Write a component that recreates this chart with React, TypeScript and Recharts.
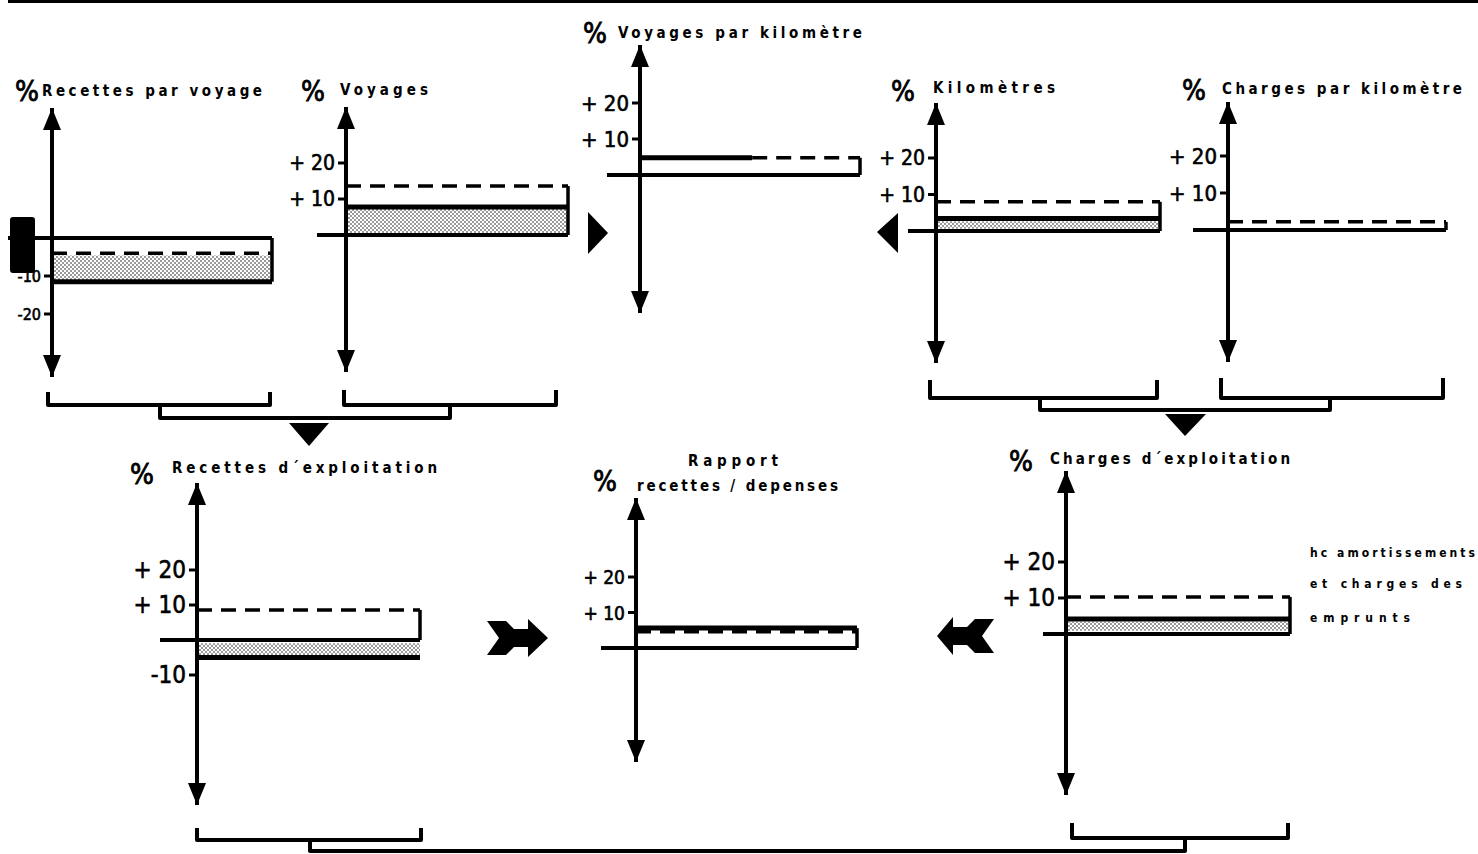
import React from "react";
import {
  ComposedChart,
  Line,
  Area,
  XAxis,
  YAxis,
  ReferenceLine,
} from "recharts";

// ---------- DATA ----------
const panelTitles = [
  "Recettes par voyage",
  "Voyages",
  "Voyages par kilomètre",
  "Kilomètres",
  "Charges par kilomètre",
  "Recettes d´exploitation",
  "recettes / depenses",
  "Charges d´exploitation",
];
const panelSubtitle7 = "Rapport";

// solid line = observed change (%), dashed line = other reference (%)
const solidValues: (number | null)[] = [-11.5, 7.8, 4.8, 3.4, null, -5, 5.6, 4.2];
const dashedValues: (number | null)[] = [-4, 13.6, 4.8, 8, 2.2, 8.6, 4.6, 10.3];
// stippled band (from -> to)
const shadeFrom: (number | null)[] = [-4.6, 0, null, 0.6, null, -0.9, null, 0.9];
const shadeTo: (number | null)[] = [-11.5, 7.8, null, 2.7, null, -5, null, 3.4];
// share of width drawn solid (panel 3: solid then dashed)
const solidSpan = [100, 100, 51, 100, 100, 100, 100, 100];
const dashStart = [0, 0, 51, 0, 0, 0, 0, 0];

const tickValues: number[][] = [
  [-10, -20],
  [20, 10],
  [20, 10],
  [20, 10],
  [20, 10],
  [20, 10, -10],
  [20, 10],
  [20, 10],
];

const noteLines = ["hc amortissements", "et charges des", "emprunts"];

// ---------- LAYOUT (page pixels) ----------
type Geo = {
  axisX: number; zeroY: number; px10: number; top: number; bottom: number;
  zeroLeft: number; boxRight: number; fs: number;
  pct: [number, number]; title: [number, number, number];
};
const geo: Geo[] = [
  { axisX: 52, zeroY: 238, px10: 38, top: 108, bottom: 377, zeroLeft: 8, boxRight: 272, fs: 16, pct: [15, 101], title: [42, 262, 96] },
  { axisX: 346, zeroY: 235, px10: 36, top: 107, bottom: 372, zeroLeft: 317, boxRight: 568, fs: 21, pct: [301, 101], title: [340, 428, 95] },
  { axisX: 640, zeroY: 175, px10: 36, top: 45, bottom: 313, zeroLeft: 607, boxRight: 860, fs: 22, pct: [583, 43], title: [618, 862, 38] },
  { axisX: 936, zeroY: 231, px10: 36.5, top: 103, bottom: 363, zeroLeft: 908, boxRight: 1160, fs: 21, pct: [891, 101], title: [933, 1055, 93] },
  { axisX: 1228, zeroY: 230, px10: 37, top: 102, bottom: 362, zeroLeft: 1193, boxRight: 1446, fs: 22, pct: [1182, 100], title: [1222, 1462, 94] },
  { axisX: 197, zeroY: 640, px10: 35, top: 483, bottom: 805, zeroLeft: 160, boxRight: 420, fs: 24, pct: [130, 484], title: [172, 437, 473] },
  { axisX: 636, zeroY: 648, px10: 35.5, top: 498, bottom: 762, zeroLeft: 601, boxRight: 857, fs: 19, pct: [593, 491], title: [637, 838, 491] },
  { axisX: 1066, zeroY: 634, px10: 36, top: 471, bottom: 795, zeroLeft: 1043, boxRight: 1290, fs: 24, pct: [1009, 471], title: [1050, 1290, 464] },
];

const TICK_FONT = "'Liberation Sans Narrow','DejaVu Sans Condensed','Roboto',sans-serif";
const TITLE_FONT = "'DejaVu Sans Condensed','DejaVu Sans',sans-serif";
const YW = 72;
const RM = 4;

const makeTick = (fs: number) => (props: any) => {
  const { x, y, payload } = props;
  const v = payload.value as number;
  const label = v > 0 ? `+ ${v}` : `-${Math.abs(v)}`;
  return (
    <text x={x} y={y} textAnchor="end" dominantBaseline="central" fontSize={fs} fontFamily={TICK_FONT} fill="#000" stroke="#000" strokeWidth={0.6}>
      {label}
    </text>
  );
};

function Panel({ i }: { i: number }) {
  const g = geo[i];
  const plotW = g.boxRight - g.axisX;
  const W = YW + plotW + RM;
  const H = g.bottom - g.top;
  const ymax = ((g.zeroY - g.top) / g.px10) * 10;
  const ymin = -((g.bottom - g.zeroY) / g.px10) * 10;
  const s = solidValues[i];
  const d = dashedValues[i];
  const hasShade = shadeFrom[i] != null && shadeTo[i] != null;
  const xs = Array.from(new Set([0, solidSpan[i], dashStart[i], 100])).sort((a, b) => a - b);
  const rows = xs.map((x) => ({
    x,
    solid: s != null && x <= solidSpan[i] ? s : null,
    dashed: d != null && x >= dashStart[i] ? d : null,
    shade: hasShade ? [shadeFrom[i] as number, shadeTo[i] as number] : null,
  }));
  const vals = [s, d].filter((v) => v != null) as number[];
  const edge = vals.reduce((a, b) => (Math.abs(b) > Math.abs(a) ? b : a), 0);
  const zx = -((g.axisX - g.zeroLeft) / plotW) * 100;
  return (
    <div style={{ position: "absolute", left: g.axisX - YW, top: g.top, width: W, height: H }}>
      <ComposedChart width={W} height={H} data={rows} margin={{ top: 0, right: RM, bottom: 0, left: 0 }}>
        <XAxis type="number" dataKey="x" domain={[0, 100]} hide allowDataOverflow />
        <YAxis
          type="number"
          domain={[ymin, ymax]}
          ticks={tickValues[i]}
          allowDataOverflow
          width={YW}
          axisLine={{ stroke: "#000", strokeWidth: 4 }}
          tickLine={{ stroke: "#000", strokeWidth: 3 }}
          tickSize={8}
          tickMargin={3}
          interval={0}
          tick={makeTick(g.fs)}
        />
        {hasShade && (
          <Area
            type="linear"
            dataKey="shade"
            stroke="none"
            fill="url(#stipple)"
            fillOpacity={1}
            isAnimationActive={false}
            dot={false}
            activeDot={false}
          />
        )}
        <ReferenceLine
          segment={[{ x: zx, y: 0 }, { x: 100, y: 0 }]}
          stroke="#000"
          strokeWidth={4}
          ifOverflow="visible"
        />
        <ReferenceLine
          segment={[{ x: 100, y: 0 }, { x: 100, y: edge }]}
          stroke="#000"
          strokeWidth={3.5}
          ifOverflow="visible"
        />
        {d != null && (
          <Line
            type="linear"
            dataKey="dashed"
            stroke="#000"
            strokeWidth={3.5}
            strokeDasharray="15 9"
            dot={false}
            activeDot={false}
            isAnimationActive={false}
            connectNulls={false}
          />
        )}
        {s != null && (
          <Line
            type="linear"
            dataKey="solid"
            stroke="#000"
            strokeWidth={5}
            dot={false}
            activeDot={false}
            isAnimationActive={false}
            connectNulls={false}
          />
        )}
      </ComposedChart>
    </div>
  );
}

function chevron(L: number, R: number, T: number, B: number, dir: 1 | -1) {
  const M = (T + B) / 2;
  const pts: [number, number][] = [
    [L, T + 1], [L + 19, T + 1], [L + 27, T + 9], [L + 41, T + 9], [L + 41, T - 1],
    [R, M], [L + 41, B + 1], [L + 41, B - 9], [L + 27, B - 9], [L + 19, B - 1], [L, B - 1], [L + 12, M],
  ];
  const p = pts.map(([x, y]) => [dir === 1 ? x : L + R - x, y]);
  return p.map((q) => q.join(",")).join(" ");
}

function Overlay() {
  return (
    <svg width={1478} height={854} style={{ position: "absolute", left: 0, top: 0, pointerEvents: "none" }}>
      <defs>
        <pattern id="stipple" width="4" height="4" patternUnits="userSpaceOnUse">
          <rect width="4" height="4" fill="#fff" />
          <circle cx="1" cy="1" r="0.75" fill="#000" />
          <circle cx="3" cy="3" r="0.75" fill="#000" />
        </pattern>
      </defs>
      <rect x={8} y={0} width={1470} height={3} fill="#000" />

      {geo.map((g, i) => (
        <g key={i}>
          <polygon points={`${g.axisX - 9},${g.top + 22} ${g.axisX},${g.top} ${g.axisX + 9},${g.top + 22}`} fill="#000" />
          <polygon points={`${g.axisX - 9},${g.bottom - 22} ${g.axisX},${g.bottom} ${g.axisX + 9},${g.bottom - 22}`} fill="#000" />
          <text x={g.pct[0]} y={g.pct[1]} fontSize={28} fontFamily={TICK_FONT} fill="#000" stroke="#000" strokeWidth={0.8}>%</text>
          <text
            x={g.title[0]}
            y={g.title[2]}
            fontSize={15}
            fontWeight="bold"
            fontFamily={TITLE_FONT}
            fill="#000"
            textLength={g.title[1] - g.title[0]}
            lengthAdjust="spacing"
          >
            {panelTitles[i]}
          </text>
        </g>
      ))}
      <text x={688} y={466} fontSize={15} fontWeight="bold" fontFamily={TITLE_FONT} fill="#000" textLength={90} lengthAdjust="spacing">
        {panelSubtitle7}
      </text>

      {/* scan blob */}
      <rect x={10} y={217} width={25} height={56} rx={3} fill="#000" />

      {/* brackets */}
      <g fill="none" stroke="#000" strokeWidth={4} strokeLinejoin="round">
        <path d="M48,392 V405 H270 V392" />
        <path d="M344,390 V405 H556 V390" />
        <path d="M160,405 V418 H450 V405" />
        <path d="M930,380 V398 H1157 V380" />
        <path d="M1221,378 V398 H1443 V378" />
        <path d="M1040,398 V410 H1330 V398" />
        <path d="M197,828 V840 H421 V828" />
        <path d="M1072,823 V838 H1288 V823" />
        <path d="M310,840 V851 H1185 V838" />
      </g>

      {/* flow arrows */}
      <polygon points="289,423 329,423 309,446" fill="#000" />
      <polygon points="1165,414 1206,414 1185,436" fill="#000" />
      <polygon points="588,212 608,233 588,254" fill="#000" />
      <polygon points="898,213 877,232 898,253" fill="#000" />
      <polygon points={chevron(487, 548, 620, 656, 1)} fill="#000" />
      <polygon points={chevron(937, 994, 618, 654, -1)} fill="#000" />

      {/* side note */}
      {noteLines.map((t, k) => (
        <text
          key={k}
          x={1310}
          y={[557, 588, 622][k]}
          fontSize={12}
          fontWeight="bold"
          fontFamily={TITLE_FONT}
          fill="#000"
          textLength={[165, 152, 100][k]}
          lengthAdjust="spacing"
        >
          {t}
        </text>
      ))}
    </svg>
  );
}

export default function App() {
  return (
    <div style={{ position: "absolute", left: 0, top: 0, width: 1478, height: 854, background: "#fff", overflow: "hidden" }}>
      {geo.map((_, i) => (
        <Panel key={i} i={i} />
      ))}
      <Overlay />
    </div>
  );
}
